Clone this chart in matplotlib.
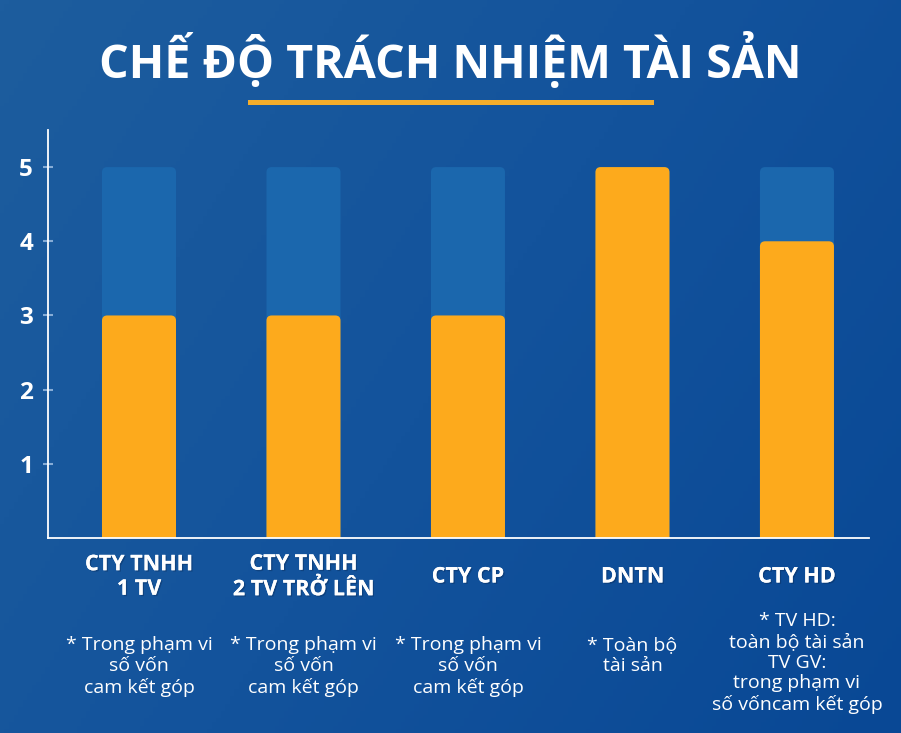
import numpy as np
import matplotlib
matplotlib.use("Agg")
import matplotlib.pyplot as plt
from matplotlib.patches import FancyBboxPatch, Rectangle
from matplotlib import transforms
import matplotlib.patheffects as pe
from matplotlib.colors import LinearSegmentedColormap

# ---- data ----
categories = ["CTY TNHH\n1 TV", "CTY TNHH\n2 TV TRỞ LÊN", "CTY CP", "DNTN", "CTY HD"]
max_values = [5, 5, 5, 5, 5]
values = [3, 3, 3, 5, 4]
notes = [
    "* Trong phạm vi\nsố vốn\ncam kết góp",
    "* Trong phạm vi\nsố vốn\ncam kết góp",
    "* Trong phạm vi\nsố vốn\ncam kết góp",
    "* Toàn bộ\ntài sản",
    "* TV HD:\ntoàn bộ tài sản\nTV GV:\ntrong phạm vi\nsố vốncam kết góp",
]
yticks = [1, 2, 3, 4, 5]
title = "CHẾ ĐỘ TRÁCH NHIỆM TÀI SẢN"

# ---- style ----
FONT = ["Open Sans", "DejaVu Sans"]
plt.rcParams["font.family"] = FONT
ORANGE = "#fdaa1c"
BAR_BG = "#1b67ad"
W, H = 901, 733

fig = plt.figure(figsize=(W / 100, H / 100), dpi=100)

# background gradient
bg = fig.add_axes([0, 0, 1, 1], zorder=-10)
yy, xx = np.mgrid[0:1:200j, 0:1:200j]
grad = 0.65 * xx + 0.35 * yy
cmap = LinearSegmentedColormap.from_list("bg", ["#1d5d9e", "#13539c", "#094895"])
bg.imshow(grad, cmap=cmap, aspect="auto", extent=[0, 1, 0, 1], origin="upper")
bg.set_axis_off()

# main axes
left, right, bottom_px, top_px = 47.7, 869, 538, 130
ax = fig.add_axes([left / W, (H - bottom_px) / H, (right - left) / W, (bottom_px - top_px) / H])
ax.patch.set_alpha(0)
x = np.arange(len(categories))
ax.set_xlim(-0.555, len(categories) - 1 + 0.438)
ax.set_ylim(0, 5.5)

bw = 0.45
bars_bg = ax.bar(x, max_values, width=bw, color=BAR_BG)
bars_fg = ax.bar(x, values, width=bw, color=ORANGE)


def roundify(container, color, z):
    for r in container.patches:
        bx, by = r.get_x(), r.get_y()
        w, h = r.get_width(), r.get_height()
        r.set_visible(False)
        p = FancyBboxPatch((bx, by - 0.2), w, h + 0.2,
                           boxstyle="round,pad=0,rounding_size=0.032",
                           mutation_aspect=2.2, facecolor=color,
                           edgecolor="none", zorder=z)
        ax.add_patch(p)


roundify(bars_bg, BAR_BG, 1)
roundify(bars_fg, ORANGE, 2)

for s in ["top", "right"]:
    ax.spines[s].set_visible(False)
for s in ["left", "bottom"]:
    ax.spines[s].set_color("white")
    ax.spines[s].set_linewidth(1.3)
    ax.spines[s].set_zorder(5)

ax.set_yticks(yticks)
ax.set_yticklabels([str(v) for v in yticks])
ax.tick_params(axis="y", direction="inout", length=7, width=1.5,
               color="#86acd6", labelcolor="white", labelsize=17.5, pad=7)
for lab in ax.get_yticklabels():
    lab.set_fontweight("bold")
ax.set_xticks([])

# category labels and notes (below the axes)
tr = transforms.blended_transform_factory(ax.transData, fig.transFigure)
shadow = [pe.withSimplePatchShadow(offset=(1, -1), shadow_rgbFace="#0a2a55", alpha=0.4), pe.Normal()]
note_top_px = [636, 636, 636, 636, 612]
for xi, cat, note, nt in zip(x, categories, notes, note_top_px):
    ax.text(xi, 1 - 577 / H, cat, transform=tr, ha="center", va="center",
            color="white", fontsize=15.5, fontweight="bold", linespacing=1.22,
            path_effects=shadow, clip_on=False)
    ax.text(xi, 1 - nt / H, note, transform=tr, ha="center", va="top",
            color="white", fontsize=14, linespacing=1.2, clip_on=False)

# title and underline
fig.text(0.5, 1 - 60 / H, title, ha="center", va="center", color="white",
         fontsize=33.5, fontweight="bold")
fig.add_artist(Rectangle((248 / W, 1 - 105 / H), (654 - 248) / W, 5 / H,
                         transform=fig.transFigure, facecolor="#f4ad2b", edgecolor="none"))

fig.savefig("out.png", dpi=100)
